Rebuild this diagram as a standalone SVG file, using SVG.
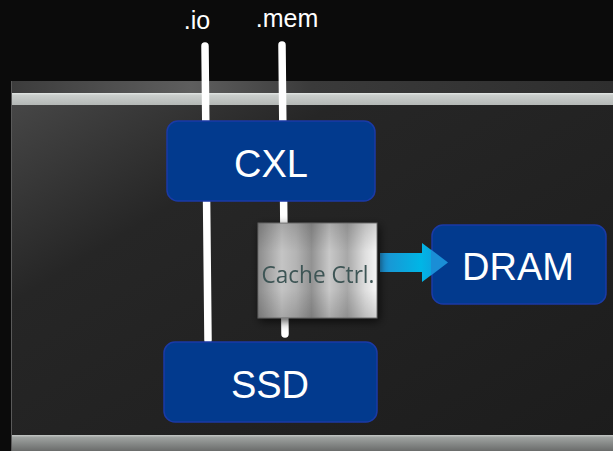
<svg xmlns="http://www.w3.org/2000/svg" width="613" height="451" viewBox="0 0 613 451">
  <style>
    .node { fill: #023a8e; stroke: #1b3aa6; stroke-width: 1.5; }
    .label { font-family: "Liberation Sans", Arial, sans-serif; fill: #ffffff; text-anchor: middle; }
    .big { font-size: 38px; }
    .bus { stroke: #ffffff; stroke-width: 7.5; stroke-linecap: round; fill: none; }
  </style>
  <defs>
    <linearGradient id="panelFill" x1="0" y1="0" x2="1" y2="1">
      <stop offset="0" stop-color="#4a4a4a"/>
      <stop offset="0.3" stop-color="#262626"/>
      <stop offset="1" stop-color="#1c1c1c"/>
    </linearGradient>
    <linearGradient id="topBand" x1="0" y1="0" x2="1" y2="0">
      <stop offset="0" stop-color="#3c3c3c"/>
      <stop offset="0.3" stop-color="#5e5e5e"/>
      <stop offset="0.5" stop-color="#3a3a3a"/>
      <stop offset="1" stop-color="#2e2e2e"/>
    </linearGradient>
    <linearGradient id="lightBar" x1="0" y1="0" x2="0" y2="1">
      <stop offset="0" stop-color="#e2e6e4"/>
      <stop offset="0.2" stop-color="#c9cdcb"/>
      <stop offset="1" stop-color="#b4b8b6"/>
    </linearGradient>
    <linearGradient id="bottomBar" x1="0" y1="0" x2="0" y2="1">
      <stop offset="0" stop-color="#c4c8c6"/>
      <stop offset="0.15" stop-color="#9ea2a0"/>
      <stop offset="1" stop-color="#6a6c6b"/>
    </linearGradient>
    <linearGradient id="silver" x1="0" y1="0" x2="1" y2="0">
      <stop offset="0" stop-color="#8c8c8c"/>
      <stop offset="0.2" stop-color="#c4c4c4"/>
      <stop offset="0.32" stop-color="#b4b4b4"/>
      <stop offset="0.45" stop-color="#929292"/>
      <stop offset="0.6" stop-color="#c8c8c8"/>
      <stop offset="0.75" stop-color="#a8a8a8"/>
      <stop offset="0.9" stop-color="#dedede"/>
      <stop offset="1" stop-color="#f6f6f6"/>
    </linearGradient>
    <linearGradient id="silverShade" x1="0" y1="0" x2="0" y2="1">
      <stop offset="0" stop-color="#000" stop-opacity="0.15"/>
      <stop offset="0.3" stop-color="#000" stop-opacity="0"/>
      <stop offset="0.7" stop-color="#000" stop-opacity="0"/>
      <stop offset="1" stop-color="#000" stop-opacity="0.15"/>
    </linearGradient>
    <linearGradient id="arrowFill" x1="0" y1="0" x2="1" y2="0">
      <stop offset="0" stop-color="#1f8fd0"/>
      <stop offset="0.6" stop-color="#00b6e6"/>
      <stop offset="1" stop-color="#1a8ed6"/>
    </linearGradient>
    <filter id="shadow" x="-30%" y="-30%" width="160%" height="160%">
      <feGaussianBlur in="SourceAlpha" stdDeviation="5"/>
      <feOffset dx="2" dy="3"/>
      <feComponentTransfer><feFuncA type="linear" slope="0.7"/></feComponentTransfer>
      <feMerge><feMergeNode/><feMergeNode in="SourceGraphic"/></feMerge>
    </filter>
  </defs>

  <!-- backdrop -->
  <rect width="613" height="451" fill="#0b0b0b"/>

  <!-- enclosure panel -->
  <g id="panel">
    <rect x="11" y="81" width="602" height="370" fill="url(#panelFill)"/>
    <rect x="11" y="81" width="602" height="12" fill="url(#topBand)"/>
    <rect x="11" y="93" width="602" height="12" fill="url(#lightBar)"/>
    <rect x="11" y="435" width="602" height="16" fill="url(#bottomBar)"/>
    <line x1="11.5" y1="81" x2="11.5" y2="451" stroke="#5a5a5a" stroke-width="1"/>
  </g>

  <!-- bus labels -->
  <g id="bus-labels">
    <text class="label" x="197" y="29" font-size="25">.io</text>
    <text class="label" x="287" y="27" font-size="25">.mem</text>
  </g>

  <!-- bus lines and the data path to DRAM -->
  <g id="connectors">
    <line class="bus" x1="205" y1="46" x2="208" y2="340"/>
    <line class="bus" x1="282" y1="45" x2="285" y2="334"/>
    <path d="M380,253 L422,253 L422,243 L448,262.5 L422,282 L422,272 L380,272 Z" fill="url(#arrowFill)"/>
  </g>

  <g id="cxl">
    <rect class="node" x="167" y="121" width="208" height="80" rx="11"/>
    <text class="label big" x="271" y="177">CXL</text>
  </g>

  <g id="cache-ctrl" filter="url(#shadow)">
    <rect x="258" y="223" width="119" height="95" fill="url(#silver)" stroke="#6a6a6a" stroke-width="0.8"/>
    <rect x="258" y="223" width="119" height="95" fill="url(#silverShade)"/>
    <text x="318" y="283" font-family="'Open Sans', 'Liberation Sans', sans-serif" font-size="23" fill="#3e5555" text-anchor="middle" textLength="113" lengthAdjust="spacingAndGlyphs">Cache Ctrl.</text>
  </g>

  <g id="dram">
    <rect class="node" x="432" y="225" width="174" height="79" rx="11"/>
    <text class="label big" x="518" y="280">DRAM</text>
  </g>

  <!-- arrow tip sits over the DRAM box edge -->
  <path d="M431,249.5 L448,262.5 L431,275.5 Z" fill="#1a8ed6"/>

  <g id="ssd">
    <rect class="node" x="164" y="342" width="213" height="80" rx="11"/>
    <text class="label big" x="270" y="398">SSD</text>
  </g>
</svg>
